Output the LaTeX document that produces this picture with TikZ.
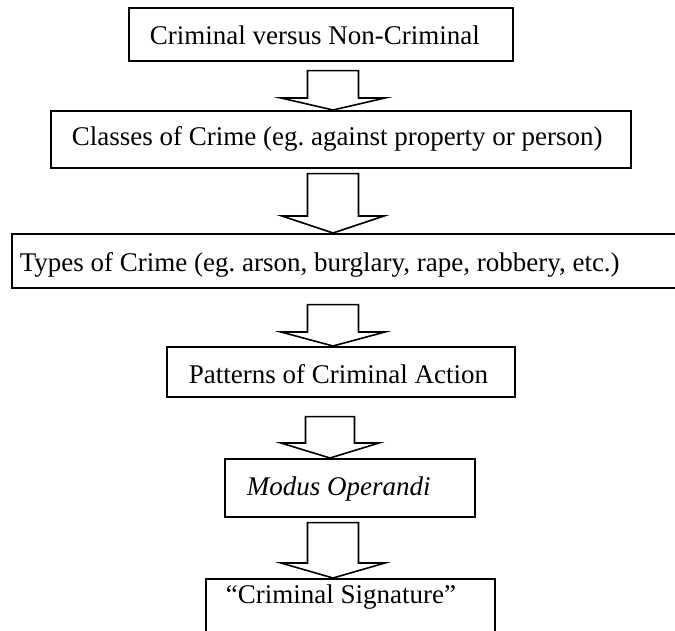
\documentclass[tikz,border=0pt]{standalone}
\usepackage{fontspec}
\setmainfont{Liberation Serif}
\usetikzlibrary{calc}
\tikzset{
  stagebox/.style={draw=black, line width=1.6pt, rectangle, anchor=north west,
    inner ysep=0pt, font=\fontsize{27}{32}\selectfont},
  blk/.style={draw=black, line width=1.6pt, fill=white, line join=miter}
}
% #1 name, #2 from node, #3 to node, #4 x, #5 gap, #6 head length, #7 half shaft, #8 half head
\newcommand{\blockarr}[8]{%
  \coordinate (#1s) at ($(#4,0 |- #2.south)+(0,#5)$);
  \coordinate (#1t) at (#4,0 |- #3.north);
  \draw[blk] ($(#1s)+(-#7,0)$) |- ($(#1t)+(-#8,-#6)$) -- (#1t)
    -- ($(#1t)+(#8,-#6)$) -| ($(#1s)+(#7,0)$) -- cycle;
}
\newcommand{\boxtext}[2]{\makebox[#1][l]{\frenchspacing #2}}
\begin{document}
\begin{tikzpicture}[x=1pt,y=-1pt]
\useasboundingbox (0,0) rectangle (675,631);
\fill[white] (0,0) rectangle (675,631);
\clip (0,0) rectangle (675,631);

\node[stagebox, inner xsep=21pt, text height=37pt, text depth=16pt]
  (b1) at (128,7) {\boxtext{342pt}{Criminal versus Non-Criminal}};
\node[stagebox, inner xsep=21pt, text height=35pt, text depth=22pt]
  (b2) at (50,110) {\boxtext{538pt}{Classes of Crime (eg. against property or person)}};
\node[stagebox, inner xsep=8pt, text height=38pt, text depth=16pt]
  (b3) at (11,233) {\boxtext{684pt}{Types of Crime (eg. arson, burglary, rape, robbery, etc.)}};
\node[stagebox, inner xsep=22pt, text height=37pt, text depth=13pt]
  (b4) at (166,346) {\boxtext{304pt}{Patterns of Criminal Action}};
\node[stagebox, inner xsep=22pt, text height=37pt, text depth=21pt]
  (b5) at (224,458) {\boxtext{206pt}{\textit{Modus Operandi}}};
\node[stagebox, inner xsep=20pt, text height=25pt, text depth=60pt]
  (b6) at (205,578) {\boxtext{249pt}{“Criminal Signature”}};

\blockarr{a1}{b1}{b2}{333}{9}{12}{25.5}{52}
\blockarr{a2}{b2}{b3}{333}{5}{17}{25.5}{51}
\blockarr{a3}{b3}{b4}{333}{16}{14}{25.5}{52}
\blockarr{a4}{b4}{b5}{330}{19}{15}{24.5}{49}
\blockarr{a5}{b5}{b6}{333}{5}{15}{25.5}{52}
\end{tikzpicture}
\end{document}
